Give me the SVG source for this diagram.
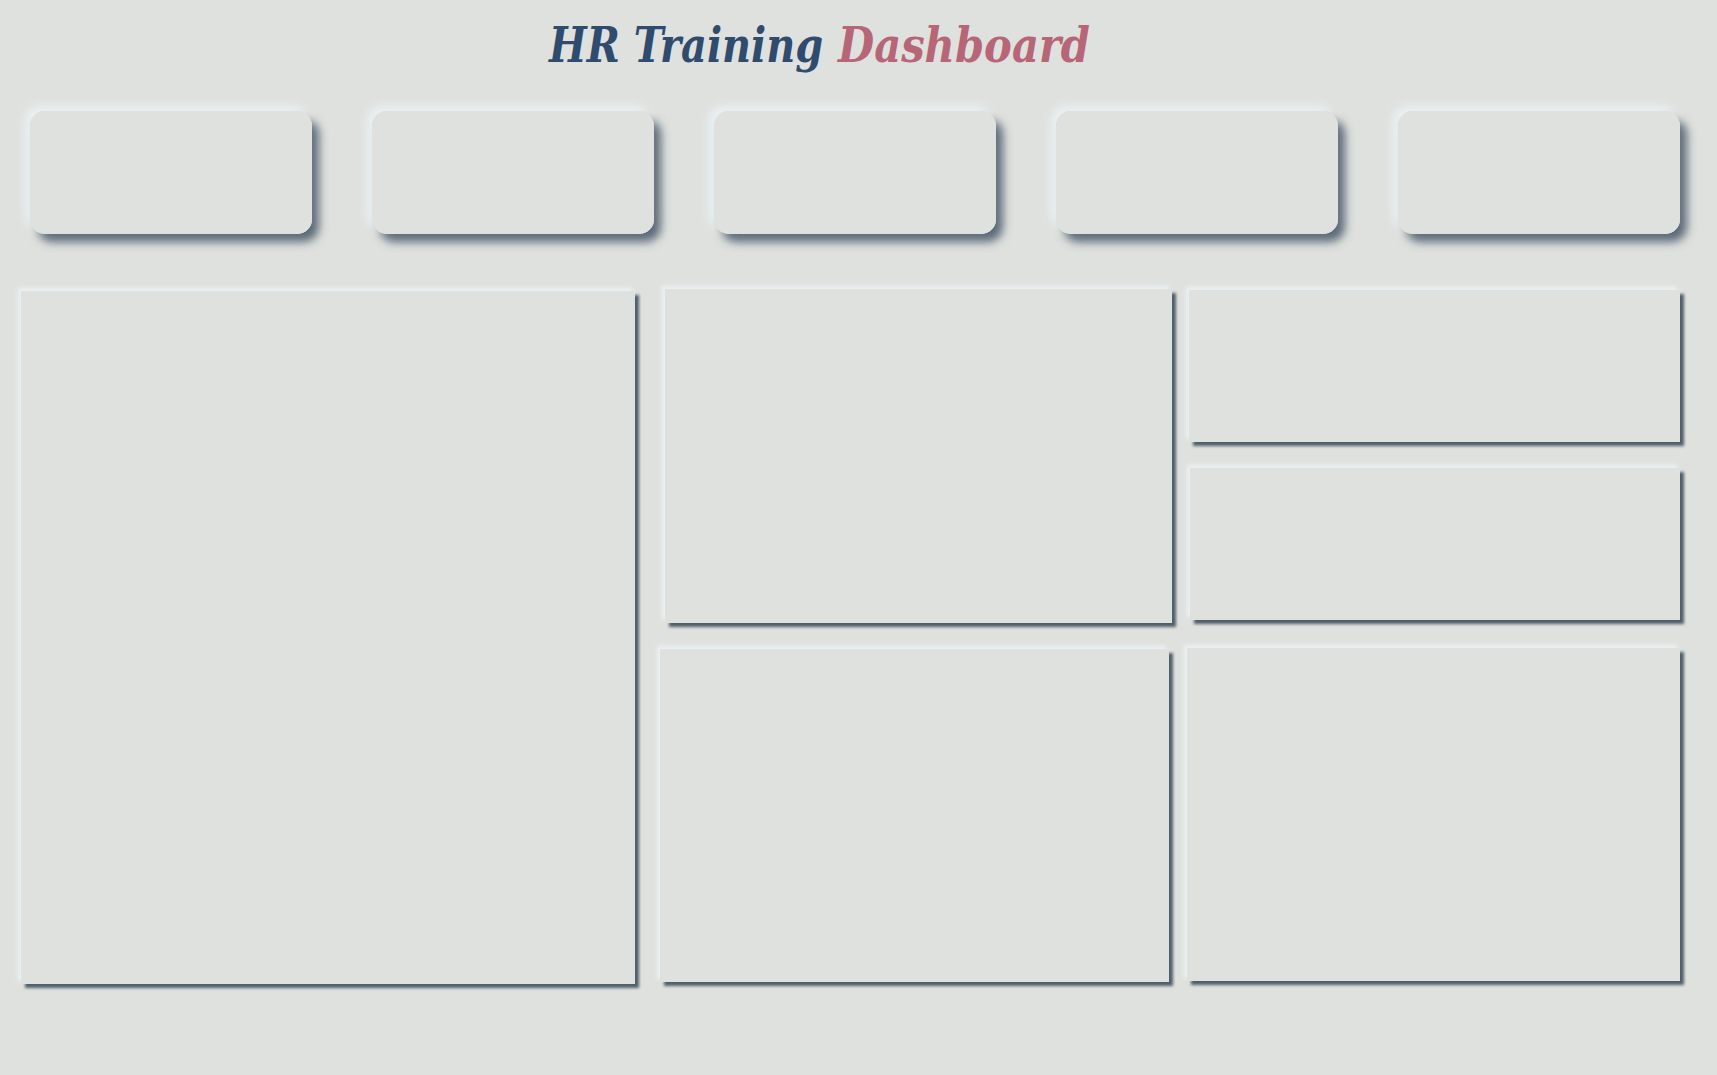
<svg xmlns="http://www.w3.org/2000/svg" width="1717" height="1075" viewBox="0 0 1717 1075">
<style>
.bg{fill:#dfe1de}
.card{fill:#dfe1de;filter:url(#cardShadow)}
.panel{fill:#dfe1de;filter:url(#panelShadow)}
.title{font-family:"DejaVu Serif Condensed","DejaVu Serif",serif;font-stretch:condensed;font-weight:bold;font-style:italic;font-size:49px}
.t1{fill:#2f4b6e}
.t2{fill:#b66677}
</style>
<defs>
<filter id="cardShadow" x="-10%" y="-20%" width="120%" height="150%">
<feDropShadow dx="-5" dy="-5" stdDeviation="5" flood-color="#e9f2f5" flood-opacity="1" result="light"/>
<feDropShadow in="SourceGraphic" dx="7" dy="8" stdDeviation="5" flood-color="#4d5d6d" flood-opacity="0.9" result="dark"/>
<feMerge><feMergeNode in="light"/><feMergeNode in="dark"/><feMergeNode in="SourceGraphic"/></feMerge>
</filter>
<filter id="panelShadow" x="-5%" y="-5%" width="110%" height="110%">
<feDropShadow dx="-3" dy="-3" stdDeviation="2" flood-color="#eaf2f4" flood-opacity="1" result="light"/>
<feDropShadow in="SourceGraphic" dx="4" dy="4" stdDeviation="1.4" flood-color="#485665" flood-opacity="0.95" result="dark"/>
<feMerge><feMergeNode in="light"/><feMergeNode in="dark"/><feMergeNode in="SourceGraphic"/></feMerge>
</filter>
</defs>
<rect class="bg" x="0" y="0" width="1717" height="1075"/>
<g id="title">
<text class="title t1" x="549" y="62" textLength="274" lengthAdjust="spacingAndGlyphs">HR Training</text>
<text class="title t2" x="838" y="62" textLength="252" lengthAdjust="spacingAndGlyphs">Dashboard</text>
</g>
<g id="kpi1"><rect class="card" x="30" y="111" width="282" height="123" rx="15"/></g>
<g id="kpi2"><rect class="card" x="372" y="111" width="282" height="123" rx="15"/></g>
<g id="kpi3"><rect class="card" x="714" y="111" width="282" height="123" rx="15"/></g>
<g id="kpi4"><rect class="card" x="1056" y="111" width="282" height="123" rx="15"/></g>
<g id="kpi5"><rect class="card" x="1398" y="111" width="282" height="123" rx="15"/></g>
<g id="panelA"><rect class="panel" x="21" y="291" width="614" height="693"/></g>
<g id="panelB"><rect class="panel" x="665" y="289" width="507" height="334"/></g>
<g id="panelC"><rect class="panel" x="1189" y="290" width="491" height="152"/></g>
<g id="panelD"><rect class="panel" x="1190" y="468" width="490" height="152"/></g>
<g id="panelE"><rect class="panel" x="660" y="649" width="509" height="333"/></g>
<g id="panelF"><rect class="panel" x="1187" y="648" width="493" height="333"/></g>
<g id="connectors"/>
</svg>
